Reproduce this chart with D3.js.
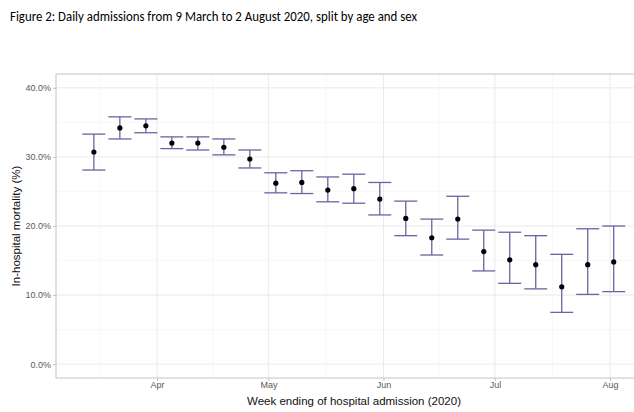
<!DOCTYPE html>
<html><head><meta charset="utf-8">
<script src="https://cdn.jsdelivr.net/npm/d3@7"></script>
<style>body{margin:0;background:#fff}svg{display:block}</style>
</head><body>
<svg id="c" width="634" height="412"></svg>
<script>
const title = "Figure 2: Daily admissions from 9 March to 2 August 2020, split by age and sex";
const weekEnding = ["2020-03-15","2020-03-22","2020-03-29","2020-04-05","2020-04-12","2020-04-19","2020-04-26","2020-05-03","2020-05-10","2020-05-17","2020-05-24","2020-05-31","2020-06-07","2020-06-14","2020-06-21","2020-06-28","2020-07-05","2020-07-12","2020-07-19","2020-07-26","2020-08-02"];
const mortality = [30.7,34.2,34.5,32.0,32.0,31.4,29.7,26.2,26.3,25.2,25.4,23.9,21.1,18.3,21.0,16.3,15.1,14.4,11.2,14.4,14.8];
const lower = [28.1,32.6,33.5,31.2,31.0,30.3,28.4,24.8,24.7,23.5,23.3,21.6,18.6,15.8,18.1,13.5,11.7,10.9,7.5,10.1,10.5];
const upper = [33.3,35.8,35.5,32.9,32.9,32.6,31.0,27.7,28.0,27.1,27.5,26.3,23.6,21.0,24.3,19.4,19.1,18.6,15.9,19.6,20.0];
const yTicks = [0,10,20,30,40];
const xTickLabels = ["Apr","May","Jun","Jul","Aug"];
const xTickDates = ["2020-04-01","2020-05-01","2020-06-01","2020-07-01","2020-08-01"];

const parse = d3.utcParse("%Y-%m-%d");
const svg = d3.select("#c");
const L = 56, T = 74, B = 378;
const x = d3.scaleUtc().domain([parse("2020-04-01"), parse("2020-08-01")]).range([157, 610]);
const y = d3.scaleLinear().domain([-2, 42]).range([B, T]);
const R = 652;

svg.append("text").attr("x", 10).attr("y", 21).attr("font-family", "Carlito, 'Open Sans', sans-serif")
  .attr("font-size", 15).attr("fill", "#000").attr("textLength", 407).attr("lengthAdjust", "spacingAndGlyphs").text(title);

const g = svg.append("g");
// minor gridlines
const minorY = [5,15,25,35];
g.selectAll(".my").data(minorY).join("line").attr("x1", L).attr("x2", R)
  .attr("y1", d => y(d)).attr("y2", d => y(d)).attr("stroke", "#f3f3f3").attr("stroke-width", 0.6);
const minorX = ["2020-03-16T12:00","2020-04-16","2020-05-16T12:00","2020-06-16","2020-07-16T12:00"].map(s => new Date(s + "Z"));
g.selectAll(".mx").data(minorX).join("line").attr("y1", T).attr("y2", B)
  .attr("x1", d => x(d)).attr("x2", d => x(d)).attr("stroke", "#f3f3f3").attr("stroke-width", 0.6);
// major gridlines
g.selectAll(".gy").data(yTicks).join("line").attr("x1", L).attr("x2", R)
  .attr("y1", d => y(d)).attr("y2", d => y(d)).attr("stroke", "#e8e8e8").attr("stroke-width", 0.9);
g.selectAll(".gx").data(xTickDates).join("line").attr("y1", T).attr("y2", B)
  .attr("x1", d => x(parse(d))).attr("x2", d => x(parse(d))).attr("stroke", "#e8e8e8").attr("stroke-width", 0.9);
// panel border
g.append("rect").attr("x", L).attr("y", T).attr("width", R - L).attr("height", B - T)
  .attr("fill", "none").attr("stroke", "#c4c4c4").attr("stroke-width", 1);

// axes
const yAxis = d3.axisLeft(y).tickValues(yTicks).tickSize(3).tickPadding(2).tickFormat(d => d.toFixed(1) + "%");
const ya = svg.append("g").attr("transform", `translate(${L},0)`).call(yAxis);
const xAxis = d3.axisBottom(x).tickValues(xTickDates.map(parse)).tickSize(3).tickPadding(1).tickFormat((d, i) => xTickLabels[i]);
const xa = svg.append("g").attr("transform", `translate(0,${B})`).call(xAxis);
[ya, xa].forEach(a => {
  a.select(".domain").remove();
  a.selectAll(".tick line").attr("stroke", "#c4c4c4");
  a.selectAll("text").attr("fill", "#5a5a5a").attr("font-family", "'Liberation Sans', Arial, sans-serif").attr("font-size", 9);
});

svg.append("text").attr("transform", `translate(20,${(T + B) / 2}) rotate(-90)`).attr("text-anchor", "middle")
  .attr("font-family", "'Liberation Sans', Arial, sans-serif").attr("font-size", 11.5).attr("fill", "#111")
  .text("In-hospital mortality (%)");
svg.append("text").attr("x", 354).attr("y", 405).attr("text-anchor", "middle")
  .attr("font-family", "'Liberation Sans', Arial, sans-serif").attr("font-size", 11.5).attr("fill", "#111")
  .text("Week ending of hospital admission (2020)");

// error bars
const data = weekEnding.map((d, i) => ({date: parse(d), m: mortality[i], lo: lower[i], hi: upper[i]}));
const hw = 11.5;
const eb = svg.append("g").attr("stroke", "#6e62a0").attr("stroke-width", 1.3).attr("fill", "none");
eb.selectAll(".v").data(data).join("line").attr("x1", d => x(d.date)).attr("x2", d => x(d.date))
  .attr("y1", d => y(d.lo)).attr("y2", d => y(d.hi));
eb.selectAll(".t").data(data).join("line").attr("x1", d => x(d.date) - hw).attr("x2", d => x(d.date) + hw)
  .attr("y1", d => y(d.hi)).attr("y2", d => y(d.hi));
eb.selectAll(".b").data(data).join("line").attr("x1", d => x(d.date) - hw).attr("x2", d => x(d.date) + hw)
  .attr("y1", d => y(d.lo)).attr("y2", d => y(d.lo));
svg.append("g").selectAll("circle").data(data).join("circle")
  .attr("cx", d => x(d.date)).attr("cy", d => y(d.m)).attr("r", 2.6).attr("fill", "#000");
</script>
</body></html>
